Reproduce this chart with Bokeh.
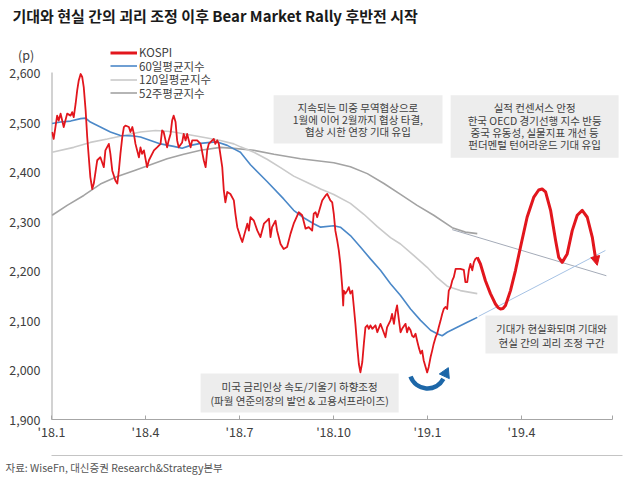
from bokeh.plotting import figure
from bokeh.models import (Range1d, FixedTicker, NumeralTickFormatter, Legend, LegendItem,
                          BoxAnnotation, Label, Arrow, NormalHead, LinearAxis, Title)
from bokeh.embed import file_html
from bokeh.resources import INLINE

FONT = "Noto Sans CJK KR"

title_text = "기대와 현실 간의 괴리 조정 이후 Bear Market Rally 후반전 시작"
source_text = "자료: WiseFn, 대신증권 Research&Strategy본부"
unit_text = "(p)"

x_ticks = [0, 3, 6, 9, 12, 15]
x_tick_labels = ["'18.1", "'18.4", "'18.7", "'18.10", "'19.1", "'19.4"]
x_axis_end = 17.9
y_ticks = [1900, 2000, 2100, 2200, 2300, 2400, 2500, 2600]
unit_tick = 2636

series_names = ["KOSPI", "60일평균지수", "120일평균지수", "52주평균지수"]

# months since Jan 2018
kospi_month = [0.02,0.07,0.18,0.23,0.29,0.39,0.50,0.61,0.66,0.71,0.77,0.82,0.87,0.93,0.98,1.03,1.09,1.14,1.19,1.24,
               1.30,1.35,1.46,1.56,1.67,1.72,1.83,1.88,1.94,2.04,2.10,2.15,2.20,2.26,2.31,2.36,2.47,2.52,2.58,2.63,
               2.68,2.79,2.84,2.89,2.95,3.05,3.11,3.27,3.37,3.48,3.53,3.58,3.64,3.69,3.74,3.80,3.85,3.90,3.96,4.01,
               4.06,4.17,4.22,4.28,4.33,4.44,4.49,4.65,4.76,4.86,4.92,4.97,5.02,5.13,5.18,5.23,5.29,5.34,
               5.45,5.50,5.55,5.61,5.71,5.82,5.87,5.93,6.03,6.09,6.19,6.25,6.30,6.35,6.46,6.57,6.67,6.78,6.88,6.94,
               6.99,7.04,7.15,7.20,7.31,7.41,7.52,7.63,7.73,7.89,8.00,
               8.11,8.21,8.32,8.37,8.43,8.48,8.53,8.64,8.75,8.80,8.90,8.96,9.01,9.06,9.12,9.17,9.22,9.28,9.31,9.33,
               9.38,9.44,9.49,9.54,9.60,9.65,9.70,9.76,9.81,9.86,9.92,9.97,10.02,10.08,10.13,10.18,10.24,10.34,10.40,10.50,
               10.56,10.66,10.71,10.82,10.87,10.93,10.98,11.03,11.09,11.14,11.19,11.30,11.35,11.40,11.46,11.51,11.56,11.62,11.67,11.72,
               11.78,11.83,11.88,11.94,11.99,12.04,12.10,12.15,12.20,12.26,12.31,12.36,12.42,12.47,12.52,12.58,12.63,12.68,12.74,12.79,
               12.84,12.90,13.05,13.16,13.21,13.27,13.32,13.37,13.43,13.48,13.53,13.59]
kospi_value = [2480,2466,2513,2503,2517,2490,2517,2513,2520,2510,2537,2564,2584,2597,2591,2570,2523,2470,2429,2389,
               2365,2376,2423,2429,2409,2443,2456,2436,2402,2382,2376,2402,2436,2470,2490,2493,2490,2480,2490,2476,
               2456,2429,2449,2436,2443,2409,2423,2443,2449,2456,2483,2480,2463,2449,2463,2476,2503,2513,2500,2463,
               2449,2459,2476,2463,2476,2449,2463,2463,2456,2423,2409,2443,2456,2463,2466,2456,2463,2456,
               2409,2362,2338,2359,2355,2342,2315,2288,2268,2258,2281,2295,2281,2308,2301,2281,2268,2295,2301,2305,
               2268,2288,2301,2281,2254,2244,2248,2275,2295,2318,2312,
               2285,2288,2281,2315,2318,2308,2318,2342,2352,2355,2342,2338,2315,2281,2261,2241,2214,2167,2130,2160,
               2154,2160,2167,2154,2160,2127,2093,2046,2012,1995,2016,2053,2086,2090,2083,2090,2083,2090,2076,2093,
               2083,2066,2086,2100,2113,2093,2116,2130,2100,2076,2083,2093,2076,2086,2080,2069,2066,2073,2059,2046,
               2033,2039,2019,2006,1995,2006,2026,2039,2053,2066,2073,2086,2100,2113,2123,2127,2123,2160,2167,2180,
               2187,2204,2204,2202,2177,2177,2201,2214,2201,2217,2224,2227]

forecast_month = [13.59,13.69,13.85,14.01,14.17,14.25,14.33,14.41,14.49,14.65,14.81,14.97,15.18,15.39,15.55,15.66,15.77,15.93,16.09,16.19,
                  16.30,16.46,16.62,16.78,16.94,17.10,17.26,17.36,17.42]
forecast_value = [2227,2214,2180,2154,2133,2126,2123,2124,2130,2160,2201,2248,2308,2348,2363,2365,2359,2322,2261,2227,
                  2217,2234,2281,2312,2322,2308,2268,2227,2211]

ma60_month = [0.02,0.29,0.61,0.93,1.09,1.24,1.56,1.88,2.20,2.63,2.84,3.16,3.48,3.90,4.17,4.44,4.76,5.07,5.29,5.61,
              5.82,6.03,6.35,6.88,7.41,7.73,8.05,8.37,8.59,9.01,9.22,9.54,9.86,10.18,10.50,10.82,11.14,11.46,11.78,12.10,
              12.31,12.47,12.63,12.95,13.27,13.59]
ma60_value = [2497,2500,2502,2507,2508,2500,2490,2480,2473,2472,2470,2463,2456,2451,2447,2453,2457,2459,2460,2453,
              2446,2439,2414,2380,2345,2322,2307,2295,2288,2291,2288,2271,2248,2224,2201,2174,2150,2123,2100,2080,
              2073,2069,2076,2086,2096,2106]

ma120_month = [0.02,0.71,1.24,1.78,2.31,2.84,3.32,3.80,4.44,4.97,5.39,5.82,6.03,6.46,6.88,7.31,7.73,8.16,8.59,9.01,
               9.54,9.97,10.40,10.82,11.14,11.56,11.99,12.31,12.63,13.05,13.59]
ma120_value = [2439,2449,2459,2466,2473,2480,2483,2481,2474,2468,2463,2456,2450,2439,2425,2408,2391,2378,2365,2354,
               2336,2314,2289,2267,2254,2231,2207,2186,2169,2160,2154]

ma52w_month = [0.02,0.50,1.03,1.56,2.10,2.63,3.16,3.69,4.22,4.76,5.39,5.82,6.46,7.10,7.95,9.01,9.54,10.08,10.61,11.14,
               11.67,12.20,12.79,13.21,13.59]
ma52w_value = [2312,2332,2352,2375,2390,2402,2414,2426,2435,2443,2449,2447,2443,2435,2426,2418,2410,2396,2376,2354,
               2332,2312,2287,2278,2275]

trend_down_month = [12.79, 17.71]
trend_down_value = [2283, 2190]
trend_up_month = [13.63, 17.68]
trend_up_value = [2108, 2241]

note_trade = ["지속되는 미중 무역협상으로", "1월에 이어 2월까지 협상 타결,", "협상 시한 연장 기대 유입"]
note_fund = ["실적 컨센서스 안정", "한국 OECD 경기선행 지수 반등", "중국 유동성, 실물지표 개선 등", "펀더멘털 턴어라운드 기대 유입"]
note_gap = ["기대가 현실화되며 기대와", "현실 간의 괴리 조정 구간"]
note_fed = ["미국 금리인상 속도/기울기 하향조정", "(파월 연준의장의 발언 & 고용서프라이즈)"]

RED = "#e2161d"
BLUE = "#4b88c8"
LGRAY = "#cacaca"
DGRAY = "#a3a3a3"
TXT = "#404040"
AXC = "#a6a6a6"
BOXC = "#ededed"

p = figure(width=630, height=480, x_range=Range1d(0, 18.225), y_range=Range1d(1900, 2692.8),
           output_backend="svg", toolbar_location=None,
           min_border_left=51, min_border_right=8, min_border_top=26, min_border_bottom=61)
p.xgrid.visible = False
p.ygrid.visible = False
p.outline_line_color = None
p.background_fill_color = "white"
p.border_fill_color = "white"

# title (in the panel above the frame)
p.title.text = title_text
p.title.align = "left"
p.title.offset = -39
p.title.standoff = 2
p.title.text_font = FONT
p.title.text_font_size = "15px"
p.title.text_font_style = "bold"
p.title.text_color = "#1a1a1a"

# x axis
p.xaxis.bounds = (0, x_axis_end)
p.xaxis.ticker = FixedTicker(ticks=x_ticks + [x_axis_end])
ov = {t: l for t, l in zip(x_ticks, x_tick_labels)}
ov[x_axis_end] = ""
p.xaxis.major_label_overrides = ov
p.xaxis.major_tick_in = 4
p.xaxis.major_tick_out = 0
p.xaxis.minor_tick_line_color = None
p.xaxis.axis_line_color = AXC
p.xaxis.major_tick_line_color = AXC
p.xaxis.major_label_text_font = FONT
p.xaxis.major_label_text_font_size = "12.5px"
p.xaxis.major_label_text_color = TXT
p.xaxis.major_label_standoff = 2
# blank axis label used as spacing before the footer rule
p.xaxis.axis_label = "\u00a0"
p.xaxis.axis_label_text_font_size = "7px"
p.xaxis.axis_label_standoff = 2

# y axis (unit "(p)" shown as the label of an extra tick above 2,600)
p.yaxis.ticker = FixedTicker(ticks=y_ticks + [unit_tick])
p.yaxis.formatter = NumeralTickFormatter(format="0,0")
p.yaxis.major_label_overrides = {unit_tick: unit_text + "\u2002"}
p.yaxis.major_tick_in = 0
p.yaxis.major_tick_out = 0
p.yaxis.minor_tick_line_color = None
p.yaxis.axis_line_color = None
p.yaxis.major_label_text_font = FONT
p.yaxis.major_label_text_font_size = "12.5px"
p.yaxis.major_label_text_color = TXT
p.yaxis.major_label_standoff = 11
# visible y axis line from the lowest to the highest value tick
p.segment(x0=[0], y0=[y_ticks[0]], x1=[0], y1=[y_ticks[-1]], line_color=AXC, line_width=2)

# footer rule (tickless axis spanning the whole width) and source line
rule = LinearAxis(ticker=FixedTicker(ticks=[]), bounds=(-1.63, 18.49),
                  axis_line_color="#c4c4c4", major_tick_line_color=None,
                  minor_tick_line_color=None, major_label_text_font_size="1px",
                  major_label_standoff=0)
p.add_layout(rule, "below")
p.add_layout(Title(text=source_text, align="left", offset=-46, standoff=5,
                   text_font=FONT, text_font_size="10.5px", text_font_style="normal",
                   text_color="#555555"), "below")

# annotation boxes
box_specs = [
    (7.09, 12.48, 2554, 2457, note_trade, 9.78, [2530, 2505, 2480]),
    (12.74, 18.10, 2554, 2428, note_fund, 15.42, [2529, 2504, 2479, 2454]),
    (13.85, 18.07, 2110, 2033, note_gap, 15.96, [2084, 2056]),
    (4.76, 11.08, 1993, 1914, note_fed, 7.92, [1967, 1939]),
]
for l, r, t, b, lines, cx, ys in box_specs:
    p.add_layout(BoxAnnotation(left=l, right=r, top=t, bottom=b, fill_color=BOXC, fill_alpha=1,
                               line_color=None, level="underlay"))
    for txt, yy in zip(lines, ys):
        p.add_layout(Label(x=cx, y=yy, text=txt, text_align="center", text_baseline="middle",
                           text_font=FONT, text_font_size="10.5px", text_color=TXT))

# lines
r52 = p.line(ma52w_month, ma52w_value, line_color=DGRAY, line_width=1.6)
r120 = p.line(ma120_month, ma120_value, line_color=LGRAY, line_width=1.6)
p.line(trend_down_month, trend_down_value, line_color="#a4abb8", line_width=1)
p.line(trend_up_month, trend_up_value, line_color="#a6c2e4", line_width=1)
r60 = p.line(ma60_month, ma60_value, line_color=BLUE, line_width=1.6)
rk = p.line(kospi_month, kospi_value, line_color=RED, line_width=1.8, line_join="round")
rf = p.line(forecast_month[:-1], forecast_value[:-1], line_color=RED, line_width=3, line_join="round")
p.add_layout(Arrow(end=NormalHead(size=9, fill_color=RED, line_color=RED),
                   x_start=forecast_month[-2], y_start=forecast_value[-2],
                   x_end=forecast_month[-1], y_end=forecast_value[-1],
                   line_color=RED, line_width=3))

# blue curved arrow (U-turn at the January low)
p.arc(x=12.0, y=1999, radius=18, radius_units="screen", start_angle=200, end_angle=332,
      start_angle_units="deg", end_angle_units="deg", direction="anticlock",
      line_color="#1d67a8", line_width=4.5)
p.scatter(x=[12.58], y=[1993], marker="triangle", size=11, angle=-25, angle_units="deg",
          fill_color="#1d67a8", line_color="#1d67a8")

# legend: one single-entry legend per row so the rows sit as tightly as in the original
legend_rows = [(series_names[0], rf, 359), (series_names[1], r60, 345.5),
               (series_names[2], r120, 332), (series_names[3], r52, 318.5)]
for name, rend, vy in legend_rows:
    p.add_layout(Legend(items=[LegendItem(label=name, renderers=[rend])],
                        location=(59, vy), padding=0, margin=0, spacing=0,
                        glyph_width=27, glyph_height=11, label_height=11, label_standoff=2,
                        label_text_font=FONT, label_text_font_size="11.5px", label_text_color=TXT,
                        border_line_color=None, background_fill_alpha=0))

open("out.html", "w").write(file_html(p, INLINE))
